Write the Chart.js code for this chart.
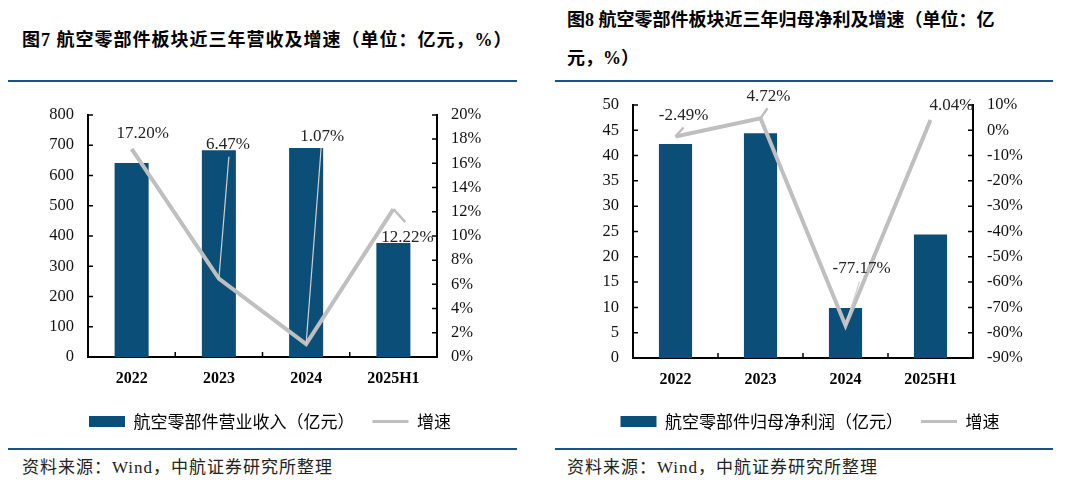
<!DOCTYPE html>
<html>
<head>
<meta charset="utf-8">
<script src="https://cdn.jsdelivr.net/npm/chart.js@4/dist/chart.umd.min.js"></script>
<style>
  body { margin: 0; width: 1080px; height: 484px; position: relative; background: #fff; overflow: hidden;
         font-family: "Liberation Serif", "Noto Sans CJK SC", serif; color: #000; }
  .title { position: absolute; font-size: 18px; font-weight: bold; white-space: nowrap; line-height: 1; }
  .rule { position: absolute; height: 2px; background: #1f4e8c; }
  .src { position: absolute; font-size: 17px; letter-spacing: 1px; white-space: nowrap; line-height: 1; color: #222; }
  canvas { position: absolute; }
</style>
</head>
<body>
<div class="title" style="left:22px;top:31px;letter-spacing:1px;">图7 航空零部件板块近三年营收及增速（单位：亿元，%）</div>
<div class="title" style="left:567px;top:11px;">图8 航空零部件板块近三年归母净利及增速（单位：亿</div>
<div class="title" style="left:567px;top:49px;">元，%）</div>
<div class="rule" style="left:8px;top:80px;width:509px;"></div>
<div class="rule" style="left:555px;top:80px;width:498px;"></div>
<div class="rule" style="left:8px;top:448px;width:509px;"></div>
<div class="rule" style="left:555px;top:448px;width:498px;"></div>
<div class="src" style="left:22px;top:459px;">资料来源：Wind，中航证券研究所整理</div>
<div class="src" style="left:567px;top:459px;">资料来源：Wind，中航证券研究所整理</div>

<canvas id="revChart" width="540" height="349" style="left:0;top:91px;"></canvas>
<canvas id="profitChart" width="540" height="359" style="left:540px;top:81px;"></canvas>

<script>
// categories shared by both charts
const years = ['2022', '2023', '2024', '2025H1'];

// 图7: revenue (亿元) and growth (%)
const revenue = [641, 683, 691, 377];
const revenueGrowth = [17.20, 6.47, 1.07, 12.22];

// 图8: net profit attributable to parent (亿元) and growth (%)
const profit = [42.3, 44.4, 9.9, 24.4];
const profitGrowth = [-2.49, 4.72, -77.17, 4.04];

const BAR_COLOR = '#0b4f79';
const LINE_COLOR = '#bfbfbf';
const NUM_FONT = '"Liberation Serif", "Times New Roman", serif';
const CJK_FONT = '"Noto Sans CJK SC", sans-serif';

// small tick marks pointing into the plot
const axisTicks = {
  id: 'axisTicks',
  afterDatasetsDraw(chart) {
    const { ctx, chartArea, scales } = chart;
    ctx.save();
    ctx.strokeStyle = '#000';
    ctx.lineWidth = 1.5;
    ctx.beginPath();
    scales.y.ticks.forEach(t => {
      const py = scales.y.getPixelForValue(t.value);
      ctx.moveTo(chartArea.left, py);
      ctx.lineTo(chartArea.left + 5, py);
    });
    scales.y1.ticks.forEach(t => {
      const py = scales.y1.getPixelForValue(t.value);
      ctx.moveTo(chartArea.right, py);
      ctx.lineTo(chartArea.right - 5, py);
    });
    const n = scales.x.ticks.length;
    for (let i = 1; i < n; i++) {
      const px = (scales.x.getPixelForValue(i - 1) + scales.x.getPixelForValue(i)) / 2;
      ctx.moveTo(px, chartArea.bottom);
      ctx.lineTo(px, chartArea.bottom - 5);
    }
    ctx.stroke();
    ctx.restore();
  }
};

// growth labels with leader lines
const pctLabels = {
  id: 'pctLabels',
  afterDatasetsDraw(chart, args, opts) {
    const { ctx } = chart;
    const meta = chart.getDatasetMeta(1);
    const values = chart.data.datasets[1].data;
    ctx.save();
    meta.data.forEach((pt, i) => {
      const lead = opts.leaders[i];
      if (lead) {
        ctx.strokeStyle = lead.color;
        ctx.lineWidth = lead.width;
        ctx.beginPath();
        ctx.moveTo(pt.x, pt.y);
        ctx.lineTo(pt.x + lead.dx, pt.y + lead.dy);
        ctx.stroke();
      }
    });
    ctx.fillStyle = '#222';
    ctx.font = '17px ' + NUM_FONT;
    ctx.textAlign = 'center';
    ctx.textBaseline = 'middle';
    meta.data.forEach((pt, i) => {
      const [dx, dy] = opts.offsets[i];
      ctx.fillText(values[i].toFixed(2) + '%', pt.x + dx, pt.y + dy);
    });
    ctx.restore();
  }
};

function makeChart(el, cfg) {
  return new Chart(el, {
    type: 'bar',
    data: {
      labels: years,
      datasets: [
        {
          label: cfg.barLabel,
          data: cfg.bars,
          backgroundColor: BAR_COLOR,
          borderWidth: 0,
          yAxisID: 'y',
          categoryPercentage: 1,
          barPercentage: 0.39,
          order: 2
        },
        {
          type: 'line',
          label: '增速',
          data: cfg.growth,
          borderColor: LINE_COLOR,
          backgroundColor: LINE_COLOR,
          borderWidth: 4,
          pointRadius: 0,
          tension: 0,
          yAxisID: 'y1',
          order: 1
        }
      ]
    },
    options: {
      responsive: false,
      animation: false,
      devicePixelRatio: 1,
      layout: { padding: { top: cfg.padTop, left: 0, right: 0, bottom: 0 } },
      scales: {
        x: {
          grid: { display: false, drawTicks: false },
          border: { display: true, color: '#000', width: 2 },
          ticks: { color: '#000', padding: 12, font: { family: NUM_FONT, size: 16, weight: 'bold' } },
          afterFit: s => { s.height = cfg.xH; }
        },
        y: {
          position: 'left',
          min: cfg.yMin, max: cfg.yMax,
          ticks: { stepSize: cfg.yStep, color: '#111', padding: 14, font: { family: NUM_FONT, size: 16.5 } },
          grid: { display: false, drawTicks: false },
          border: { display: true, color: '#000', width: 2 },
          afterFit: s => { s.width = cfg.leftW; }
        },
        y1: {
          position: 'right',
          min: cfg.y1Min, max: cfg.y1Max,
          ticks: { stepSize: cfg.y1Step, color: '#111', padding: 14, font: { family: NUM_FONT, size: 16.5 },
                   callback: v => v + '%' },
          grid: { display: false, drawTicks: false },
          border: { display: true, color: '#000', width: 2 },
          afterFit: s => { s.width = cfg.rightW; }
        }
      },
      plugins: {
        tooltip: { enabled: false },
        legend: {
          position: 'bottom',
          labels: {
            usePointStyle: true,
            pointStyleWidth: 36,
            boxHeight: 11,
            padding: 18,
            color: '#222',
            font: { family: CJK_FONT, size: 17 },
            generateLabels: chart => chart.data.datasets.map((ds, i) => ({
              text: ds.label,
              fillStyle: ds.backgroundColor,
              strokeStyle: i === 0 ? ds.backgroundColor : ds.borderColor,
              lineWidth: i === 0 ? 0 : 3,
              pointStyle: i === 0 ? 'rect' : 'line',
              datasetIndex: i
            }))
          }
        },
        pctLabels: { offsets: cfg.labelOffsets, leaders: cfg.leaders }
      }
    },
    plugins: [axisTicks, pctLabels]
  });
}

const thin = (dx, dy) => ({ dx, dy, width: 1.2, color: '#d0d0d0' });
const thick = (dx, dy) => ({ dx, dy, width: 2.5, color: LINE_COLOR });

makeChart(document.getElementById('revChart'), {
  barLabel: '航空零部件营业收入（亿元）',
  bars: revenue,
  growth: revenueGrowth,
  padTop: 15,
  xH: 38,
  leftW: 88, rightW: 103,
  yMin: 0, yMax: 800, yStep: 100,
  y1Min: 0, y1Max: 20, y1Step: 2,
  labelOffsets: [[11, -15], [9, -134], [16, -208], [14, 28]],
  leaders: [null, thin(10, -122), thin(15, -196), thick(12, 13)]
});

makeChart(document.getElementById('profitChart'), {
  barLabel: '航空零部件归母净利润（亿元）',
  bars: profit,
  growth: profitGrowth,
  padTop: 21,
  xH: 37,
  leftW: 93, rightW: 107,
  yMin: 0, yMax: 50, yStep: 5,
  y1Min: -90, y1Max: 10, y1Step: 10,
  labelOffsets: [[8, -21], [8, -22], [16, -57], [21, -14]],
  leaders: [thick(8, -9), thick(7, -10), thin(14, -44), null]
});
</script>
</body>
</html>
